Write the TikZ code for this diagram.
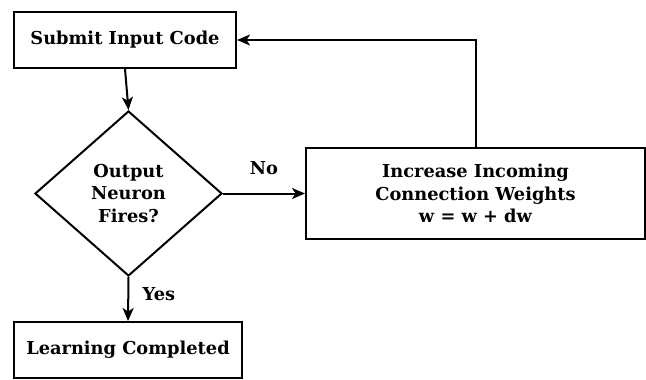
\documentclass[tikz,border=0pt]{standalone}
\usepackage{fontspec}
\setmainfont{DejaVu Serif}
\usepackage{tikz}
\usetikzlibrary{arrows.meta}
\usetikzlibrary{shapes.geometric}

\begin{document}
\begin{tikzpicture}[x=1pt,y=-1pt,->,>={Stealth[length=13pt,width=11pt,inset=3.5pt]},line width=2pt,
                    every node/.style={font=\fontsize{17.8}{22.5}\selectfont\bfseries},
                    box node/.style={rectangle,draw,align=center,inner sep=0pt},
                    test node/.style={diamond,draw,align=center,inner sep=0pt,aspect=1.13,
                                      minimum width=187pt,minimum height=165pt}]

  \useasboundingbox (0,0) rectangle (646,380);

  \node[box node,minimum width=222pt,minimum height=56pt] (submit) at (125,40) {Submit Input Code};
  \node[test node] (fires) at (128.5,193.5) {Output\\Neuron\\Fires?};
  \node[box node,minimum width=339pt,minimum height=91pt] (increase) at (475.5,193.5)
       {Increase Incoming\\Connection Weights\\w = w + dw};
  \node[box node,minimum width=228pt,minimum height=56pt] (learned) at (128,350) {Learning Completed};

  \path
    (submit.south) edge (fires.north)
    (fires.east) edge node[above=14pt] (no) {No} (increase.west)
    (fires.south) edge node[right=10pt,pos=0.4] (yes) {Yes} (learned.north)
    ;
  \draw (increase.north) |- (submit.east);
\end{tikzpicture}
\end{document}
